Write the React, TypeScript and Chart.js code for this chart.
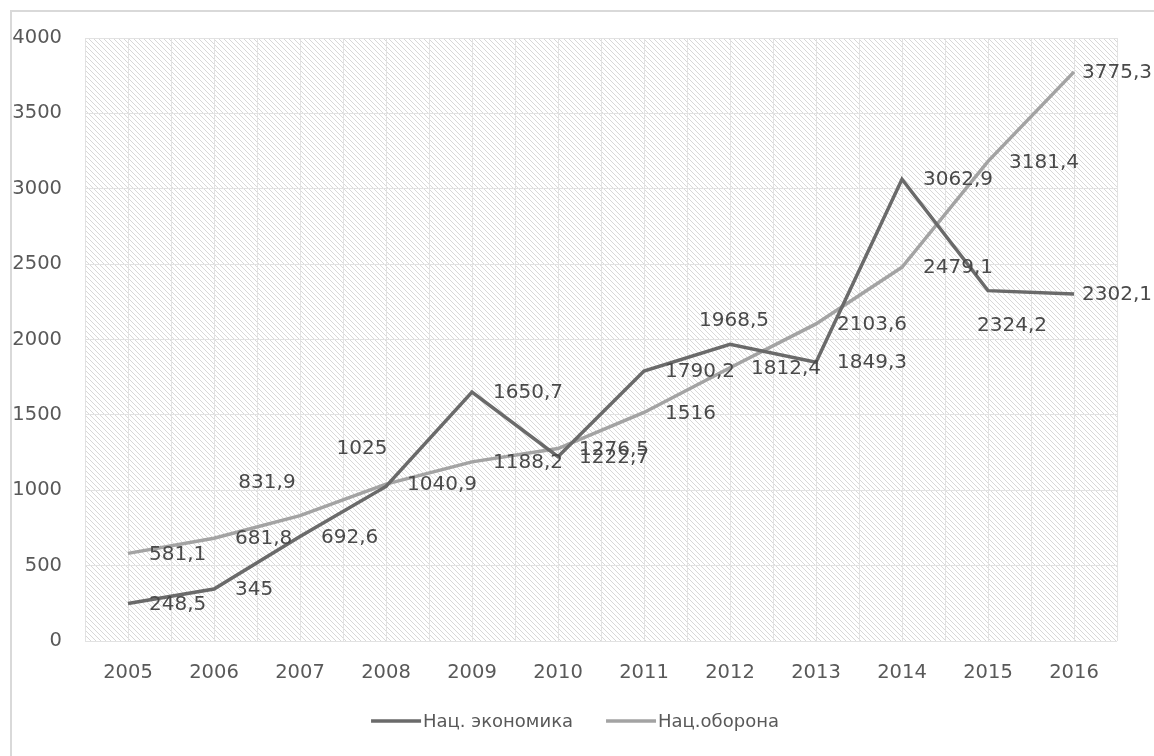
import React, { useEffect, useRef } from "react";
import { Chart, registerables } from "chart.js";

Chart.register(...registerables);

const YEARS = ["2005", "2006", "2007", "2008", "2009", "2010", "2011", "2012", "2013", "2014", "2015", "2016"];
const ECONOMY = [248.5, 345, 692.6, 1025, 1650.7, 1222.7, 1790.2, 1968.5, 1849.3, 3062.9, 2324.2, 2302.1];
const DEFENSE = [581.1, 681.8, 831.9, 1040.9, 1188.2, 1276.5, 1516, 1812.4, 2103.6, 2479.1, 3181.4, 3775.3];
const SERIES_NAMES = ["Нац. экономика", "Нац.оборона"];
const Y_MIN = 0;
const Y_MAX = 4000;
const Y_STEP = 500;

// label nudges (center offset from point) for the few labels not placed to the right
const ECONOMY_NUDGE: (number[] | null)[] = [null, null, null, [-24, -38], null, null, null, [4, -23], null, null, [24, 35], null];
const DEFENSE_NUDGE: (number[] | null)[] = [null, null, [-33, -33], null, null, null, null, null, null, null, null, null];

const FONT = "'DejaVu Sans', sans-serif";
const TEXT = "#595959";
const LABEL_TEXT = "#4a4a4a";
const GRID = "#e2e2e2";
const DARK = "#6a6a6a";
const LIGHT = "#a3a3a3";

const fmt = (v: number) => String(v).replace(".", ",");

export default function App() {
  const ref = useRef<HTMLCanvasElement | null>(null);
  useEffect(() => {
    if (!ref.current) return;
    const backgroundPlugin = {
      id: "bgHatch",
      beforeDraw(chart: any) {
        const { ctx, chartArea } = chart;
        const { left, top, right, bottom } = chartArea;
        ctx.save();
        ctx.fillStyle = "#ffffff";
        ctx.fillRect(0, 0, chart.width, chart.height);
        // outer frame
        ctx.strokeStyle = "#d9d9d9";
        ctx.lineWidth = 2;
        ctx.beginPath();
        ctx.moveTo(11, chart.height);
        ctx.lineTo(11, 11);
        ctx.lineTo(chart.width, 11);
        ctx.stroke();
        // hatch
        const s = 5;
        const tile = document.createElement("canvas");
        tile.width = s;
        tile.height = s;
        const t = tile.getContext("2d")!;
        t.fillStyle = "#ffffff";
        t.fillRect(0, 0, s, s);
        t.strokeStyle = "#d4d4d4";
        t.lineWidth = 0.9;
        t.beginPath();
        t.moveTo(-1, -1);
        t.lineTo(s + 1, s + 1);
        t.moveTo(-1, s - 1);
        t.lineTo(1, s + 1);
        t.moveTo(s - 1, -1);
        t.lineTo(s + 1, 1);
        t.stroke();
        const pat = ctx.createPattern(tile, "repeat");
        ctx.fillStyle = pat;
        ctx.fillRect(left, top, right - left, bottom - top);
        ctx.restore();
      },
      beforeDatasetsDraw(chart: any) {
        const { ctx, chartArea, scales } = chart;
        const xs = scales.x;
        ctx.save();
        ctx.strokeStyle = GRID;
        ctx.lineWidth = 1;
        ctx.beginPath();
        for (let i = 0; i < YEARS.length; i++) {
          const x = Math.round(xs.getPixelForTick(i)) + 0.5;
          ctx.moveTo(x, chartArea.top);
          ctx.lineTo(x, chartArea.bottom);
        }
        ctx.stroke();
        ctx.restore();
      },
    };

    const labelsPlugin = {
      id: "valueLabels",
      afterDatasetsDraw(chart: any) {
        const { ctx } = chart;
        const nudges = [ECONOMY_NUDGE, DEFENSE_NUDGE];
        ctx.save();
        ctx.font = `20px ${FONT}`;
        ctx.fillStyle = LABEL_TEXT;
        ctx.textBaseline = "middle";
        ctx.textAlign = "left";
        chart.data.datasets.forEach((ds: any, di: number) => {
          const meta = chart.getDatasetMeta(di);
          meta.data.forEach((pt: any, i: number) => {
            const text = fmt(ds.data[i]);
            const w = ctx.measureText(text).width;
            const nudge = nudges[di][i];
            let x: number;
            let y: number;
            if (nudge) {
              x = pt.x + nudge[0] - w / 2;
              y = pt.y + nudge[1];
            } else {
              x = pt.x + 21;
              y = pt.y + 1;
            }
            if (x + w > chart.width - 2) x = chart.width - 2 - w;
            ctx.fillText(text, x, y);
          });
        });
        ctx.restore();
      },
    };

    const legendPlugin = {
      id: "customLegend",
      afterDraw(chart: any) {
        const { ctx } = chart;
        ctx.save();
        ctx.font = `18px ${FONT}`;
        ctx.textBaseline = "middle";
        ctx.textAlign = "left";
        const lineLen = 50;
        const gap = 2;
        const itemGap = 33;
        const widths = SERIES_NAMES.map((n) => ctx.measureText(n).width);
        const total = widths.reduce((a, w) => a + lineLen + gap + w, 0) + itemGap * (SERIES_NAMES.length - 1);
        let x = chart.width / 2 - 2 - total / 2;
        const y = 721;
        chart.data.datasets.forEach((ds: any, i: number) => {
          ctx.strokeStyle = ds.borderColor;
          ctx.lineWidth = ds.borderWidth;
          ctx.beginPath();
          ctx.moveTo(x, y);
          ctx.lineTo(x + lineLen, y);
          ctx.stroke();
          ctx.fillStyle = TEXT;
          ctx.fillText(SERIES_NAMES[i], x + lineLen + gap, y + 1);
          x += lineLen + gap + widths[i] + itemGap;
        });
        ctx.restore();
      },
    };

    const chart = new Chart(ref.current, {
      type: "line",
      data: {
        labels: YEARS,
        datasets: [
          {
            label: SERIES_NAMES[0],
            data: ECONOMY,
            borderColor: DARK,
            backgroundColor: DARK,
            borderWidth: 3.5,
            pointRadius: 0,
            tension: 0,
          },
          {
            label: SERIES_NAMES[1],
            data: DEFENSE,
            borderColor: LIGHT,
            backgroundColor: LIGHT,
            borderWidth: 3.5,
            pointRadius: 0,
            tension: 0,
          },
        ],
      },
      options: {
        animation: false,
        responsive: false,
        devicePixelRatio: 1,
        layout: { padding: { top: 38, right: 37, bottom: 55, left: 0 } },
        plugins: { legend: { display: false }, tooltip: { enabled: false } },
        scales: {
          x: {
            type: "category",
            offset: true,
            afterFit(scale: any) {
              scale.height = 60;
            },
            grid: { offset: true, color: GRID, drawTicks: false, lineWidth: 1 },
            border: { display: false },
            ticks: { color: TEXT, font: { family: FONT, size: 19.5 }, padding: 20, maxRotation: 0 },
          },
          y: {
            min: Y_MIN,
            max: Y_MAX,
            afterFit(scale: any) {
              scale.width = 85;
            },
            grid: { color: GRID, drawTicks: false, lineWidth: 1 },
            border: { display: false },
            ticks: {
              stepSize: Y_STEP,
              color: TEXT,
              font: { family: FONT, size: 19.5 },
              padding: 23,
              callback: (v: any) => String(v),
            },
          },
        },
      },
      plugins: [backgroundPlugin, labelsPlugin, legendPlugin],
    } as any);
    return () => chart.destroy();
  }, []);

  return (
    <div style={{ position: "fixed", left: 0, top: 0, width: 1154, height: 756, background: "#fff" }}>
      <canvas ref={ref} width={1154} height={756} style={{ display: "block" }} />
    </div>
  );
}
